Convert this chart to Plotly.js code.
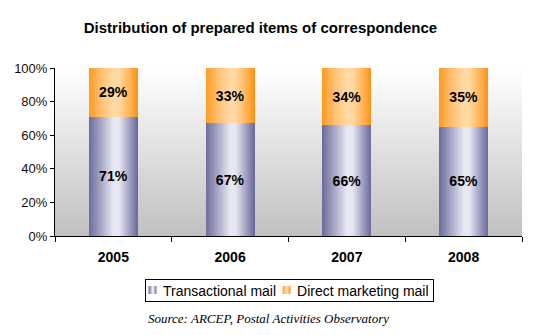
<!DOCTYPE html>
<html>
<head>
<meta charset="utf-8">
<script src="https://cdn.plot.ly/plotly-3.0.1.min.js"></script>
<style>
html,body{margin:0;padding:0;background:#fff;}
#chart{width:537px;height:335px;}
</style>
</head>
<body>
<div id="chart"></div>
<script>
const years = ['2005', '2006', '2007', '2008'];
const transactional = [71, 67, 66, 65];
const directMarketing = [29, 33, 34, 35];
const seriesNames = ['Transactional mail', 'Direct marketing mail'];

const FONT = "'Liberation Sans', Arial, sans-serif";

const traces = [
  {
    type: 'bar', name: seriesNames[0], x: years, y: transactional,
    marker: {color: '#9a9ac0', line: {width: 0}},
    text: transactional.map(v => v + '%'), textposition: 'inside', insidetextanchor: 'middle',
    textfont: {family: FONT, size: 14, color: '#000', weight: 'bold'},
    hoverinfo: 'skip'
  },
  {
    type: 'bar', name: seriesNames[1], x: years, y: directMarketing,
    marker: {color: '#ffb860', line: {width: 0}},
    text: directMarketing.map(v => v + '%'), textposition: 'inside', insidetextanchor: 'middle',
    textfont: {family: FONT, size: 14, color: '#000', weight: 'bold'},
    hoverinfo: 'skip'
  }
];

const layout = {
  width: 537, height: 335,
  margin: {l: 55, r: 15, t: 68, b: 99},
  paper_bgcolor: '#ffffff',
  plot_bgcolor: '#e0e0e0',
  barmode: 'stack',
  bargap: 0.58,
  showlegend: true,
  title: {
    text: '<b>Distribution of prepared items of correspondence</b>',
    font: {family: FONT, size: 15, color: '#000'},
    x: 0.485, xanchor: 'center', xref: 'container',
    y: 0.916, yanchor: 'middle', yref: 'container'
  },
  xaxis: {
    type: 'category',
    showline: true, linecolor: '#000', linewidth: 1,
    ticks: 'outside', tickson: 'boundaries', ticklen: 5, tickcolor: '#000',
    tickfont: {family: FONT, size: 14, color: '#000', weight: 'bold'},
    ticklabelstandoff: 8,
    showgrid: false, zeroline: false, fixedrange: true
  },
  yaxis: {
    range: [0, 100], dtick: 20, ticksuffix: '%',
    showline: true, linecolor: '#000', linewidth: 1,
    ticks: 'outside', ticklen: 4, tickcolor: '#000',
    tickfont: {family: FONT, size: 13, color: '#1a0a0a'},
    showgrid: false, zeroline: false, fixedrange: true
  },
  legend: {
    orientation: 'h', traceorder: 'normal',
    x: 0.505, xanchor: 'center', xref: 'paper',
    y: -0.255, yanchor: 'top', yref: 'paper',
    bordercolor: '#000', borderwidth: 1, bgcolor: '#fff',
    font: {family: FONT, size: 14, color: '#000'},
    itemwidth: 30, tracegroupgap: 0
  },
  annotations: [{
    text: '<i>Source: ARCEP, Postal Activities Observatory</i>',
    xref: 'paper', yref: 'paper', x: 0.195, y: -0.49,
    xanchor: 'left', yanchor: 'middle', showarrow: false,
    font: {family: "'Liberation Serif', 'Times New Roman', serif", size: 13, color: '#000'}
  }]
};

function addGradients(gd) {
  const svg = gd.querySelector('svg.main-svg');
  if (!svg) return;
  const ns = 'http://www.w3.org/2000/svg';
  let defs = svg.querySelector('defs#customdefs');
  if (!defs) {
    defs = document.createElementNS(ns, 'defs');
    defs.setAttribute('id', 'customdefs');
    svg.insertBefore(defs, svg.firstChild);
    const mk = (id, stops, vertical) => {
      const g = document.createElementNS(ns, 'linearGradient');
      g.setAttribute('id', id);
      g.setAttribute('x1', '0'); g.setAttribute('y1', '0');
      g.setAttribute('x2', vertical ? '0' : '1'); g.setAttribute('y2', vertical ? '1' : '0');
      stops.forEach(([o, c]) => {
        const s = document.createElementNS(ns, 'stop');
        s.setAttribute('offset', o); s.setAttribute('stop-color', c);
        g.appendChild(s);
      });
      defs.appendChild(g);
    };
    mk('gBlue', [['0', '#6c6c9c'], ['0.25', '#a8a8c8'], ['0.5', '#e8e8f2'], ['0.62', '#e6e6f0'], ['0.85', '#9898bc'], ['1', '#68689a']], false);
    mk('gOrange', [['0', '#ff9a22'], ['0.25', '#ffc070'], ['0.5', '#ffdaa4'], ['0.62', '#ffd8a0'], ['0.85', '#ffb050'], ['1', '#ff9010']], false);
    mk('gBg', [['0', '#ffffff'], ['1', '#c0c0c0']], true);
  }
  svg.querySelectorAll('.bglayer rect.bg').forEach(r => { r.style.fill = 'url(#gBg)'; });
  svg.querySelectorAll('.barlayer .trace').forEach((t, i) => {
    t.querySelectorAll('.point path').forEach(p => {
      p.style.fill = i === 0 ? 'url(#gBlue)' : 'url(#gOrange)';
    });
  });
  gd.querySelectorAll('.legend .traces').forEach((t, i) => {
    t.querySelectorAll('.legendpoints path').forEach(p => {
      p.style.fill = i === 0 ? 'url(#gBlue)' : 'url(#gOrange)';
    });
  });
  compactLegend(gd);
}

// tighten the legend entries (smaller swatch, shorter gaps) like the reference
function compactLegend(gd) {
  const leg = gd.querySelector('.legend');
  if (!leg) return;
  const base = gd.getBoundingClientRect();
  const boxLeft = 145, boxTop = 279, boxBottom = 301;
  const midY = (boxTop + boxBottom) / 2;
  let cx = boxLeft + 7.5;
  let lastRight = cx;
  leg.querySelectorAll('.traces').forEach(item => {
    const p = item.querySelector('.legendpoints path');
    const t = item.querySelector('text.legendtext');
    if (p) {
      p.setAttribute('d', 'M4,4H-4V-4H4Z');
      const pr = p.getBoundingClientRect();
      const dx = cx - (pr.left - base.left + pr.width / 2);
      const dy = midY - (pr.top - base.top + pr.height / 2);
      if (Math.abs(dx) > 0.01 || Math.abs(dy) > 0.01) {
        p.setAttribute('transform', (p.getAttribute('transform') || '') + ' translate(' + dx + ',' + dy + ')');
      }
    }
    if (t) {
      const tr = t.getBoundingClientRect();
      const wantLeft = cx + 10.5;
      const dx = wantLeft - (tr.left - base.left);
      const dy = midY + 0.5 - (tr.top - base.top + tr.height / 2);
      t.setAttribute('x', (parseFloat(t.getAttribute('x')) || 0) + dx);
      t.setAttribute('y', (parseFloat(t.getAttribute('y')) || 0) + dy);
      lastRight = wantLeft + tr.width;
      cx = lastRight + 10.5;
    }
  });
  const bg = leg.querySelector('rect.bg');
  if (bg) {
    const br = bg.getBoundingClientRect();
    const curL = br.left - base.left, curT = br.top - base.top;
    const x0 = parseFloat(bg.getAttribute('x')) || 0;
    const y0 = parseFloat(bg.getAttribute('y')) || 0;
    bg.setAttribute('x', x0 + (boxLeft - curL));
    bg.setAttribute('y', y0 + (boxTop - curT));
    bg.setAttribute('width', (lastRight + 5) - boxLeft);
    bg.setAttribute('height', boxBottom - boxTop);
  }
}

const gd = document.getElementById('chart');
Plotly.newPlot(gd, traces, layout, {displayModeBar: false, staticPlot: true}).then(() => {
  addGradients(gd);
  gd.on('plotly_afterplot', () => addGradients(gd));
});
</script>
</body>
</html>
